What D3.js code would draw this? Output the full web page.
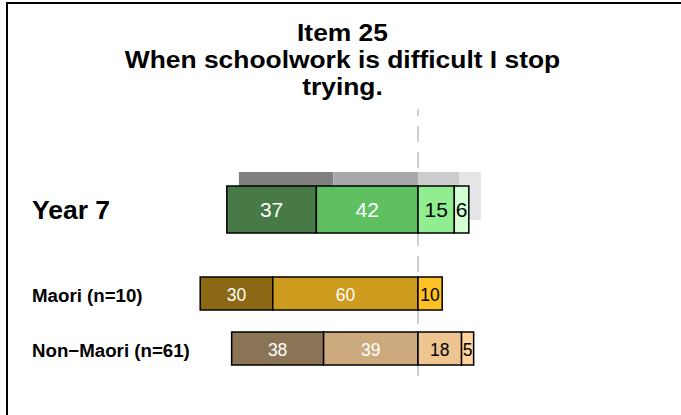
<!DOCTYPE html>
<html>
<head>
<meta charset="utf-8">
<script src="https://cdn.jsdelivr.net/npm/d3@7"></script>
<style>
  html, body { margin: 0; padding: 0; background: #fff; }
  svg { display: block; font-family: "Liberation Sans", Arial, Helvetica, sans-serif; }
</style>
</head>
<body>
<svg id="chart" width="681" height="415"></svg>
<script>
// Response categories: two "disagree" shades on the left, two "agree" shades on the right
const categories = ["Strongly disagree", "Disagree", "Agree", "Strongly agree"];
const titleLines = ["Item 25", "When schoolwork is difficult I stop", "trying."];

// Whole year group
const overallLabel = "Year 7";
const overallValues = [37, 42, 15, 6];
// Reference bar drawn in grey behind the year group
const referenceValues = [39, 35, 17, 9];

// Sub-groups
const groups = ["Maori (n=10)", "Non\u2212Maori (n=61)"];
const groupValues = [
  [30, 60, 10, 0],
  [38, 39, 18, 5]
];

const overallColors = ["#487a48", "#5fc062", "#90ee90", "#d3ffd3"];
const referenceColors = ["#808080", "#a9a9a9", "#cccccc", "#e5e5e5"];
const groupColors = [
  ["#8b6914", "#cd9b1d", "#ffc125", "#ffd65c"],
  ["#8b7355", "#cdaa7d", "#eec591", "#ffd39b"]
];
const labelInk = ["#fff", "#fff", "#000", "#000"];

const svg = d3.select("#chart");

// Diverging scale: the split between disagree and agree sits at zero
const x = d3.scaleLinear().domain([-100, 100]).range([176, 660]);

// Turn a row of percentages into stacked segments centred on zero
function segments(values) {
  const neg = values[0] + values[1];
  let start = -neg;
  return values.map((v, i) => {
    const s = { i, v, x0: start, x1: start + v };
    start += v;
    return s;
  });
}

// Frame lines
svg.append("path")
  .attr("d", "M7,415V3H681")
  .attr("fill", "none")
  .attr("stroke", "#000")
  .attr("stroke-width", 2);

// Title: slightly widened bold lines, centred over the plot
svg.append("g")
  .attr("transform", "translate(342.5,0) scale(1.1,1)")
  .selectAll("text")
  .data(titleLines)
  .join("text")
  .attr("x", 0)
  .attr("y", (d, i) => 41 + i * 27)
  .attr("text-anchor", "middle")
  .attr("font-weight", "bold")
  .attr("font-size", 24)
  .text(d => d);

// Zero reference line
svg.append("line")
  .attr("x1", x(0)).attr("x2", x(0))
  .attr("y1", 109).attr("y2", 385)
  .attr("stroke", "#a0a0a0")
  .attr("stroke-width", 1)
  .attr("stroke-dasharray", "16,10")
  .attr("stroke-dashoffset", 9);

// Year group row
const overallY = 186, overallH = 47, refShift = 14;

svg.append("g").selectAll("rect")
  .data(segments(referenceValues))
  .join("rect")
  .attr("x", d => x(d.x0))
  .attr("width", d => x(d.x1) - x(d.x0))
  .attr("y", overallY - refShift)
  .attr("height", overallH + 1)
  .attr("fill", d => referenceColors[d.i]);

const og = svg.append("g");
og.selectAll("rect")
  .data(segments(overallValues).filter(d => d.v > 0))
  .join("rect")
  .attr("x", d => x(d.x0))
  .attr("width", d => x(d.x1) - x(d.x0))
  .attr("y", overallY)
  .attr("height", overallH)
  .attr("fill", d => overallColors[d.i])
  .attr("stroke", "#000")
  .attr("stroke-width", 1.5);
og.selectAll("text")
  .data(segments(overallValues).filter(d => d.v > 0))
  .join("text")
  .attr("x", d => (x(d.x0) + x(d.x1)) / 2)
  .attr("y", overallY + overallH / 2)
  .attr("dy", "0.36em")
  .attr("text-anchor", "middle")
  .attr("font-size", 21)
  .attr("fill", d => labelInk[d.i])
  .text(d => d.v);

svg.append("text")
  .attr("x", 32).attr("y", 219)
  .attr("font-weight", "bold")
  .attr("font-size", 26.5)
  .text(overallLabel);

// Sub-group rows
const y = d3.scaleBand()
  .domain(groups)
  .range([266, 376])
  .paddingInner(0.4)
  .paddingOuter(0.2);

groups.forEach((g, gi) => {
  const segs = segments(groupValues[gi]).filter(d => d.v > 0);
  const row = svg.append("g");
  row.selectAll("rect")
    .data(segs)
    .join("rect")
    .attr("x", d => x(d.x0))
    .attr("width", d => x(d.x1) - x(d.x0))
    .attr("y", y(g))
    .attr("height", y.bandwidth())
    .attr("fill", d => groupColors[gi][d.i])
    .attr("stroke", "#000")
    .attr("stroke-width", 1.5);
  row.selectAll("text")
    .data(segs)
    .join("text")
    .attr("x", d => (x(d.x0) + x(d.x1)) / 2)
    .attr("y", y(g) + y.bandwidth() / 2 + 1)
    .attr("dy", "0.36em")
    .attr("text-anchor", "middle")
    .attr("font-size", 17.5)
    .attr("fill", d => labelInk[d.i])
    .text(d => d.v);
  svg.append("text")
    .attr("x", 32)
    .attr("y", y(g) + y.bandwidth() / 2 + 8)
    .attr("font-weight", "bold")
    .attr("font-size", 18.7)
    .text(g);
});
</script>
</body>
</html>
